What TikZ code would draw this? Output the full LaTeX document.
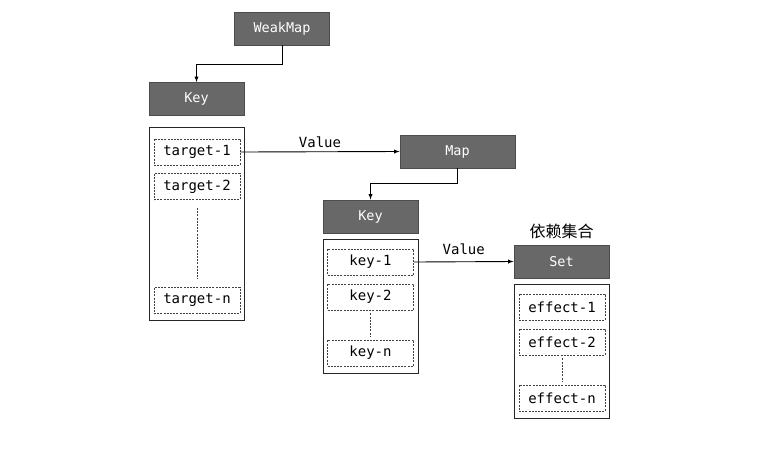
\documentclass[tikz,border=0pt]{standalone}
\usepackage{fontspec}
\setmonofont{DejaVu Sans Mono}
\newfontfamily\cjk{Noto Sans CJK SC}
\usetikzlibrary{positioning}
\definecolor{headgray}{HTML}{686868}
\tikzset{
  head/.style={draw=black!70, fill=headgray, text=white, minimum width=95pt, minimum height=33pt, font=\ttfamily\fontsize{13.5}{16}\selectfont},
  holder/.style={draw=black!85, fill=white, minimum width=95pt},
  entry/.style={draw=black!75, dash pattern=on 2pt off 1.2pt, minimum width=86pt, minimum height=26pt, font=\ttfamily\fontsize{14}{16}\selectfont},
  gap/.style={draw=black!75, dash pattern=on 2pt off 1.2pt},
}
\begin{document}
\begin{tikzpicture}[x=1pt,y=-1pt,line width=0.9pt]
    \useasboundingbox (0,0) rectangle (757,448);
    % WeakMap level
    \node[head] (weakmap) at (282,28.5) {WeakMap};
    \node[head] (key1) at (196.5,99) {Key};
    \node[holder, minimum height=193pt] (box1) at (196.5,223.5) {};
    \node[entry] (t1) at (197,152) {target-1};
    \node[entry] (t2) at (197,186.5) {target-2};
    \node[entry] (tn) at (197,300.5) {target-n};
    \draw[gap] ([yshift=-8pt]t2.south) -- ([yshift=8pt]tn.north);
    \draw[-latex] (weakmap.south) -- ++(0,19) -| (key1.north);
    % Map level
    \node[head, minimum width=115pt] (map) at (457.5,151.5) {Map};
    \draw[-latex] (t1.east) -- node[above, font=\ttfamily\fontsize{14}{16}\selectfont] {Value} (map.west);
    \node[head] (key2) at (370.5,216.5) {Key};
    \node[holder, minimum height=134pt] (box2) at (370.5,306) {};
    \node[entry] (k1) at (370.5,262) {key-1};
    \node[entry] (k2) at (370.5,297) {key-2};
    \node[entry] (kn) at (370.5,353) {key-n};
    \draw[gap] ([yshift=-3pt]k2.south) -- ([yshift=3pt]kn.north);
    \draw[-latex] (map.south) -- ++(0,15) -| (key2.north);
    % Set level
    \node[head] (set) at (561.5,261.5) {Set};
    \node[above=3pt of set, font=\cjk\fontsize{16}{18}\selectfont, inner sep=2pt] (deps) {依赖集合};
    \draw[-latex] (k1.east) -- node[above, yshift=3pt, font=\ttfamily\fontsize{14}{16}\selectfont] {Value} (set.west);
    \node[holder, minimum height=134pt] (box3) at (561.5,351) {};
    \node[entry] (e1) at (562,307) {effect-1};
    \node[entry] (e2) at (562,342) {effect-2};
    \node[entry] (en) at (562,398) {effect-n};
    \draw[gap] ([yshift=-3pt]e2.south) -- ([yshift=3pt]en.north);
\end{tikzpicture}
\end{document}
